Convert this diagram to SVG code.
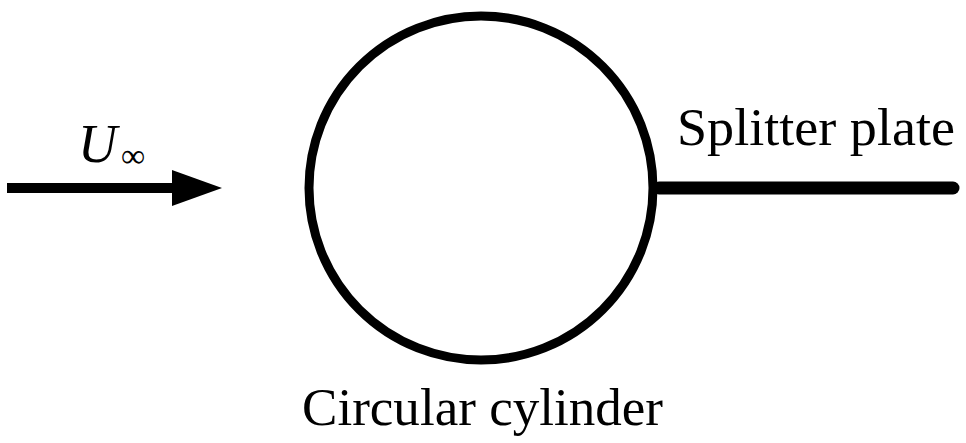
<svg xmlns="http://www.w3.org/2000/svg" width="966" height="443" viewBox="0 0 966 443">
<style>
.t{font-family:"Liberation Serif","Times New Roman",serif;fill:#000}
.lbl{font-size:53px}
</style>
<rect width="966" height="443" fill="#fff"/>
<g id="cylinder">
<circle cx="481" cy="188" r="172" fill="none" stroke="#000" stroke-width="9"/>
</g>
<g id="plate">
<line x1="659" y1="188" x2="953" y2="188" stroke="#000" stroke-width="13" stroke-linecap="round"/>
</g>
<g id="connectors">
<line x1="7" y1="188" x2="176" y2="188" stroke="#000" stroke-width="10"/>
<polygon points="172,170 222,188 172,206" fill="#000"/>
</g>
<g id="labels">
<text class="t" x="78" y="162" font-size="54" font-style="italic">U</text>
<text class="t" x="121" y="167" font-size="34">∞</text>
<text class="t lbl" x="677" y="145" textLength="278" lengthAdjust="spacingAndGlyphs">Splitter plate</text>
<text class="t lbl" x="302" y="425" textLength="361" lengthAdjust="spacingAndGlyphs">Circular cylinder</text>
</g>
</svg>
